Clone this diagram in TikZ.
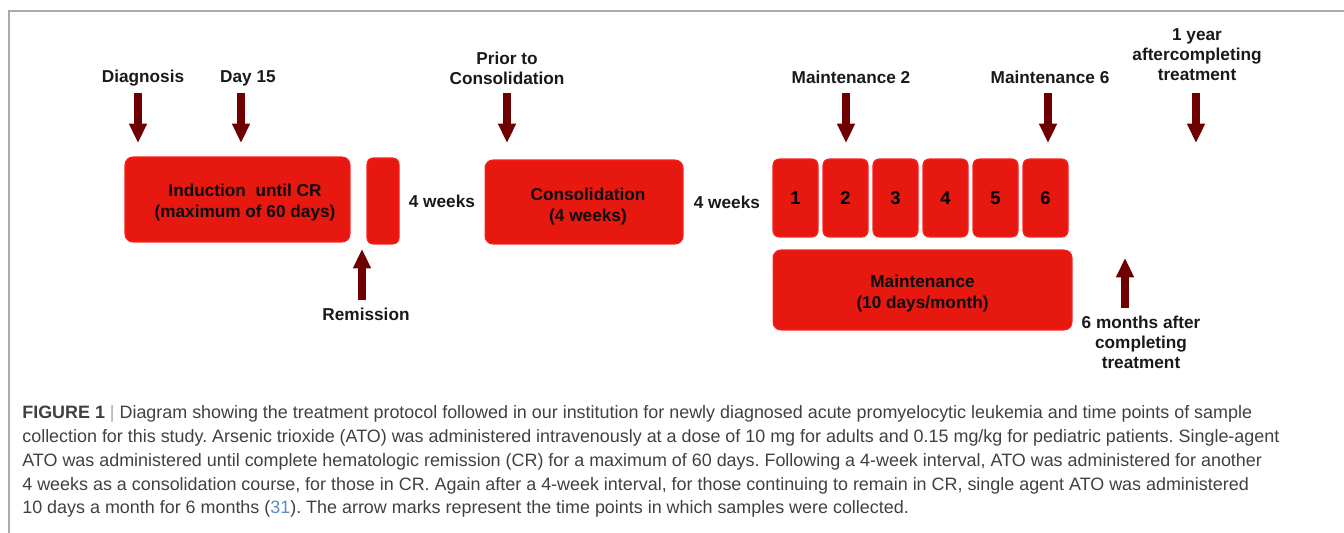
\documentclass[tikz,border=0pt]{standalone}
\usepackage{fontspec}
\setmainfont{Liberation Sans}
\usepackage{tikz}
\usetikzlibrary{arrows.meta, positioning}
\definecolor{phasered}{RGB}{230, 24, 16}
\definecolor{edgered}{RGB}{255, 30, 30}
\definecolor{samplered}{RGB}{110, 0, 0}
\definecolor{capgray}{RGB}{64, 64, 64}
\definecolor{framegray}{RGB}{170, 170, 170}
\definecolor{citeblue}{RGB}{90, 140, 200}
\frenchspacing

\begin{document}
\begin{tikzpicture}[x=0.02cm, y=-0.02cm,
  phase/.style={draw=edgered, fill=phasered, line width=0.6pt, rounded corners=4.5pt, align=center, inner sep=0pt, font=\fontsize{10.5}{12}\selectfont\bfseries},
  boxtxt/.style={align=center, inner sep=0pt, font=\fontsize{9.8}{11.9}\selectfont\bfseries, text=black!95},
  lbl/.style={align=center, inner sep=0pt, font=\fontsize{9.8}{11.3}\selectfont\bfseries, text=black!90},
  sample/.style={draw=samplered, line width=4.5pt, -{Triangle[width=9.6pt, length=11pt]}}]
  \useasboundingbox (0,0) rectangle (1344,533);

  % Frame
  \draw[framegray, line width=0.8pt] (9,533) -- (9,11) -- (1344,11);

  % Induction
  \node[phase, minimum width=4.5cm, minimum height=1.7cm,
    label={[boxtxt, xshift=0.15cm, yshift=-0.06cm]center:Induction\ \ until CR\\(maximum of 60 days)}] (induct) at (237.5,199.5) {};
  \node[phase, rounded corners=3.5pt, minimum width=0.64cm, minimum height=1.72cm] (remitbox) at (383,201) {};
  \node[lbl, right=0.18cm of remitbox] (gapone) {4 weeks};

  % Consolidation
  \node[phase, minimum width=3.96cm, minimum height=1.68cm,
    label={[boxtxt, xshift=0.08cm, yshift=-0.09cm]center:Consolidation\\(4 weeks)}] (consol) at (584,202) {};
  \node[lbl, right=0.2cm of consol] (gaptwo) {4 weeks};

  % Maintenance cycles
  \foreach \i in {1,...,6} {
    \node[phase, rounded corners=3.5pt, minimum width=0.9cm, minimum height=1.56cm] (maint\i) at ({795.5+50*(\i-1)},198) {\i};
  }
  \node[phase, minimum width=5.98cm, minimum height=1.6cm,
    label={[boxtxt, yshift=-0.07cm]center:Maintenance\\(10 days/month)}] (maint) at (922.5,290) {};

  % Sample time points
  \node[lbl] (diaglbl) at (143,78) {Diagnosis};
  \node[lbl] (daylbl) at (248,78) {Day 15};
  \node[lbl] (priorlbl) at (507,68) {Prior to\\Consolidation};
  \node[lbl] (mtwolbl) at (851,77) {Maintenance 2};
  \node[lbl] (msixlbl) at (1050,77) {Maintenance 6};
  \node[lbl] (yearlbl) at (1197,55) {1 year\\aftercompleting\\treatment};
  \node[lbl] (remitlbl) at (366,314) {Remission};
  \node[lbl] (monthlbl) at (1141,342) {6 months after\\completing\\treatment};

  \foreach \nm/\x in {diag/138, day/241, prior/507, mtwo/846, msix/1048, year/1196} {
    \coordinate (\nm top) at (\x,93);
    \coordinate (\nm tip) at (\x,143);
    \draw[sample] (\nm top) -- (\nm tip);
  }
  \foreach \nm/\x/\t/\b in {remit/362/249/300, month/1125/258/308} {
    \coordinate (\nm base) at (\x,\b);
    \coordinate (\nm tip) at (\x,\t);
    \draw[sample] (\nm base) -- (\nm tip);
  }

  % Caption
  \node[anchor=north west, inner sep=0pt, align=left, text=capgray, font=\fontsize{10.2}{13.6}\selectfont] (caption) at (22,405) {
    \textbf{FIGURE 1} \textcolor{framegray}{|} Diagram showing the treatment protocol followed in our institution for newly diagnosed acute promyelocytic leukemia and time points of sample\\
    collection for this study. Arsenic trioxide (ATO) was administered intravenously at a dose of 10 mg for adults and 0.15 mg/kg for pediatric patients. Single-agent\\
    ATO was administered until complete hematologic remission (CR) for a maximum of 60 days. Following a 4-week interval, ATO was administered for another\\
    4 weeks as a consolidation course, for those in CR. Again after a 4-week interval, for those continuing to remain in CR, single agent ATO was administered\\
    10 days a month for 6 months (\textcolor{citeblue}{31}). The arrow marks represent the time points in which samples were collected.
  };
\end{tikzpicture}
\end{document}
